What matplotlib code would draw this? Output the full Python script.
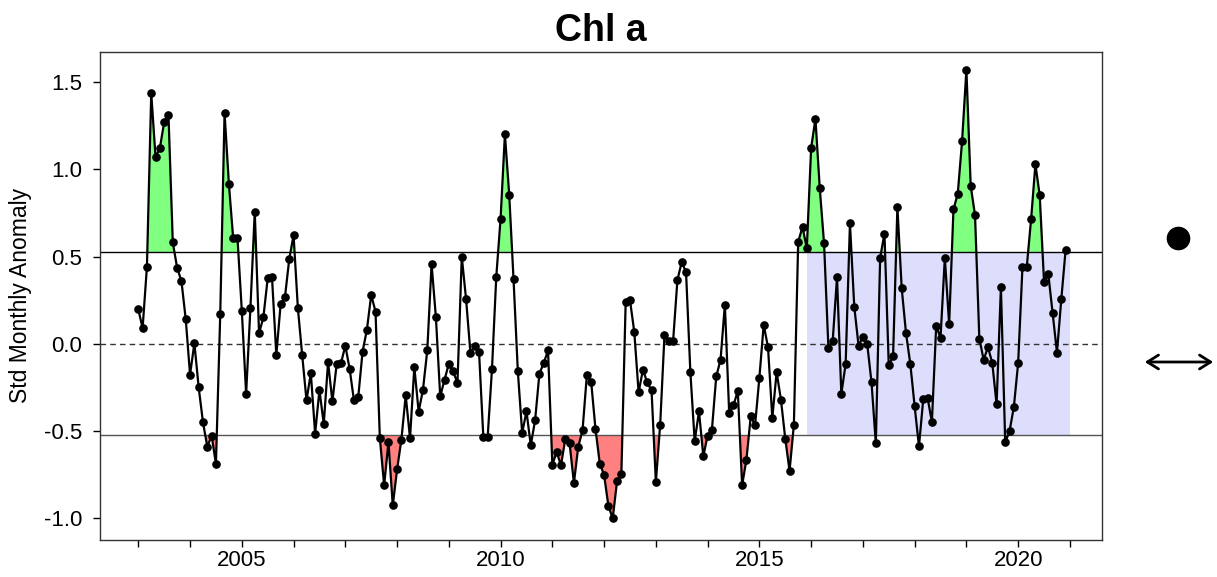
import numpy as np
import matplotlib
matplotlib.use("Agg")
import matplotlib.pyplot as plt
from matplotlib.patches import Rectangle, FancyArrowPatch
from matplotlib.lines import Line2D

plt.rcParams['font.family'] = ['Liberation Sans', 'DejaVu Sans']

# ---- data ----
start_year = 2003
values = [
    0.198, 0.090, 0.442, 1.436, 1.070, 1.122, 1.270, 1.309, 0.581, 0.436, 0.360, 0.141,
    -0.177, 0.004, -0.250, -0.450, -0.590, -0.526, -0.688, 0.170, 1.324, 0.918, 0.604, 0.604,
    0.190, -0.286, 0.208, 0.756, 0.061, 0.152, 0.375, 0.381, -0.063, 0.227, 0.267, 0.486,
    0.623, 0.204, -0.065, -0.324, -0.168, -0.514, -0.265, -0.459, -0.105, -0.330, -0.116, -0.110,
    -0.011, -0.143, -0.324, -0.305, -0.044, 0.080, 0.280, 0.185, -0.539, -0.810, -0.564, -0.926,
    -0.720, -0.549, -0.295, -0.541, -0.133, -0.389, -0.263, -0.038, 0.457, 0.152, -0.301, -0.206,
    -0.114, -0.158, -0.225, 0.499, 0.255, -0.050, -0.015, -0.044, -0.535, -0.535, -0.145, 0.385,
    0.718, 1.200, 0.855, 0.370, -0.158, -0.510, -0.387, -0.581, -0.438, -0.171, -0.110, -0.038,
    -0.693, -0.619, -0.697, -0.545, -0.571, -0.798, -0.590, -0.495, -0.179, -0.217, -0.488, -0.686,
    -0.752, -0.930, -1.000, -0.787, -0.747, 0.240, 0.251, 0.067, -0.278, -0.149, -0.221, -0.267,
    -0.792, -0.463, 0.051, 0.019, 0.017, 0.366, 0.469, 0.410, -0.162, -0.558, -0.387, -0.644,
    -0.526, -0.491, -0.187, -0.091, 0.225, -0.396, -0.352, -0.270, -0.810, -0.663, -0.415, -0.467,
    -0.194, 0.109, -0.019, -0.425, -0.162, -0.320, -0.543, -0.728, -0.463, 0.585, 0.670, 0.547,
    1.122, 1.290, 0.893, 0.575, -0.021, 0.017, 0.381, -0.286, -0.116, 0.690, 0.213, -0.011,
    0.042, 0.000, -0.221, -0.571, 0.493, 0.632, -0.124, -0.072, 0.785, 0.318, 0.061, -0.116,
    -0.358, -0.587, -0.316, -0.310, -0.448, 0.103, 0.034, 0.493, 0.112, 0.770, 0.861, 1.162,
    1.571, 0.905, 0.737, 0.030, -0.091, -0.019, -0.110, -0.347, 0.324, -0.564, -0.501, -0.362,
    -0.110, 0.442, 0.442, 0.714, 1.029, 0.851, 0.356, 0.398, 0.175, -0.050, 0.255, 0.537,
]
upper = 0.525
lower = -0.525
recent_start = 2015.925
recent_end = 2021.0
yticks = [-1.0, -0.5, 0.0, 0.5, 1.0, 1.5]
ytick_labels = ["-1.0", "-0.5", "0.0", "0.5", "1.0", "1.5"]
xticks = list(range(2003, 2022))
xlabel_years = [2005, 2010, 2015, 2020]
title = "Chl a"
ylabel = "Std Monthly Anomaly"

y = np.array(values)
x = start_year + np.arange(len(y)) / 12.0

fig = plt.figure(figsize=(12.17, 5.77), dpi=100)
ax = fig.add_axes([100/1217, 1-540/577, (1102-100)/1217, (540-51.7)/577])

ax.add_patch(Rectangle((recent_start, lower), recent_end - recent_start, upper - lower,
                       facecolor='#DDDDFC', edgecolor='none', zorder=0))
ax.fill_between(x, y, upper, where=y > upper, interpolate=True,
                facecolor='#80FF80', edgecolor='none', zorder=1)
ax.fill_between(x, y, lower, where=y < lower, interpolate=True,
                facecolor='#FF8080', edgecolor='none', zorder=1)
ax.axhline(upper, color='black', lw=1.0, zorder=2)
ax.axhline(lower, color='#555555', lw=1.0, zorder=2)
ax.axhline(0, color='#333333', lw=1.0, ls=(0, (4, 3)), zorder=2)
ax.plot(x, y, '-o', color='black', lw=1.6, ms=5.2, zorder=3)

ax.set_xlim(2002.26, 2021.62)
ax.set_ylim(-1.124, 1.674)
ax.set_yticks(yticks)
ax.set_yticklabels(ytick_labels)
ax.set_xticks(xticks)
ax.set_xticklabels([str(t) if t in xlabel_years else "" for t in xticks])
ax.tick_params(axis='both', direction='out', length=5, width=1, labelsize=16, colors='black')
ax.tick_params(axis='y', pad=8)
ax.tick_params(axis='x', pad=2)
for s in ax.spines.values():
    s.set_linewidth(1.0)
    s.set_color('#333333')

ax.set_title(title, fontsize=27, fontweight='bold', pad=8)
ax.set_ylabel(ylabel, fontsize=16.5)
ax.yaxis.set_label_coords(-0.068, 0.5)

# right-side status symbols
fig.add_artist(Line2D([1178/1217], [1-238/577], marker='o', ms=16, color='black',
                      transform=fig.transFigure))
fig.add_artist(FancyArrowPatch((1142/1217, 1-362/577), (1216/1217, 1-362/577),
                               arrowstyle='<->,head_length=8,head_width=5', lw=2,
                               color='black', transform=fig.transFigure))

fig.savefig('out.png', dpi=100)
